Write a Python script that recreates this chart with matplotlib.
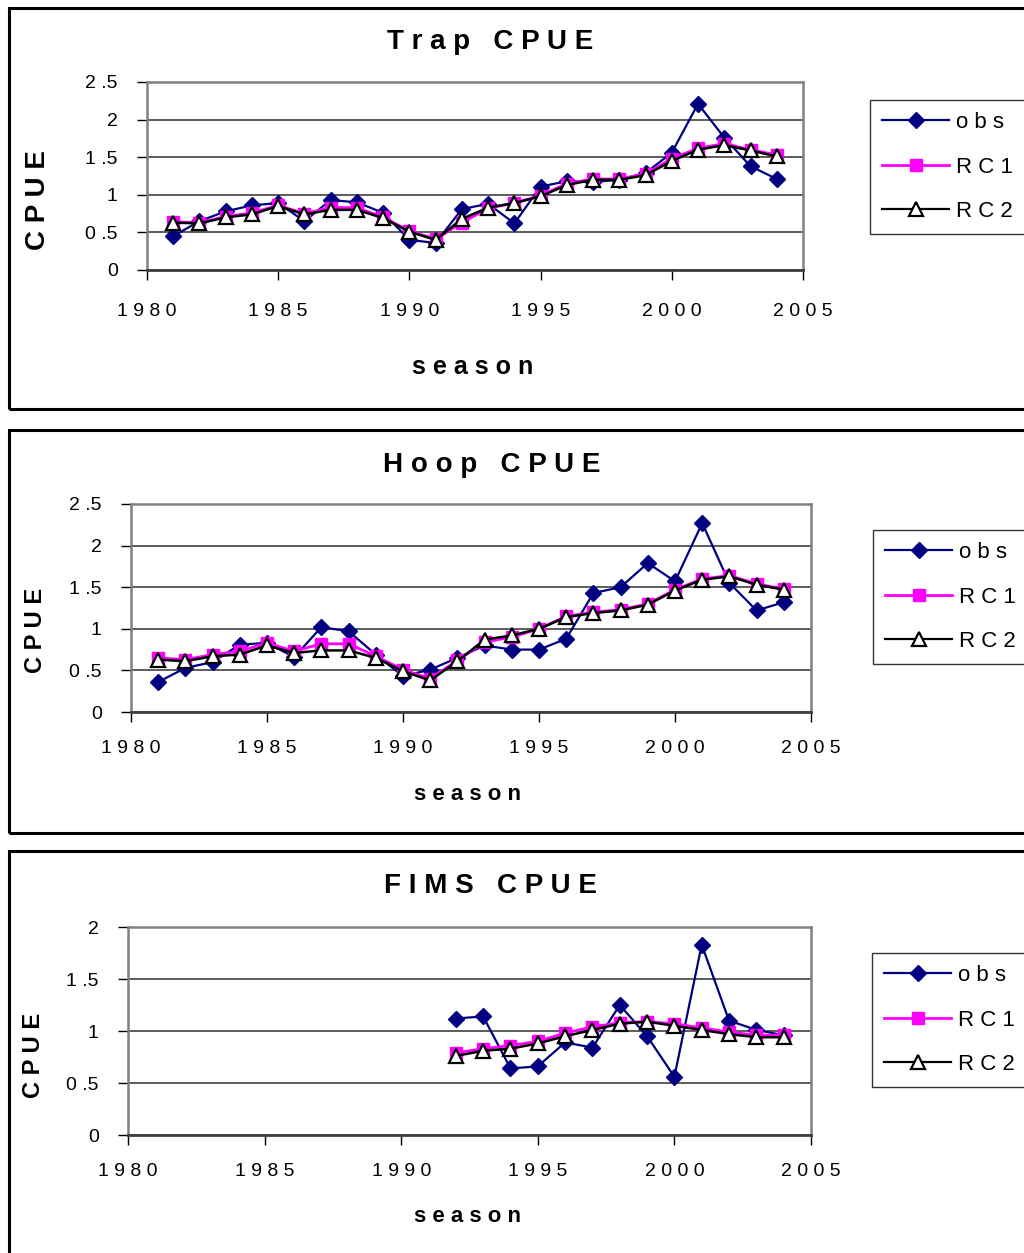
import matplotlib
matplotlib.use("Agg")
import matplotlib.pyplot as plt
from matplotlib.patches import Rectangle
from matplotlib.lines import Line2D

# ---------------- data ----------------
years = list(range(1981, 2005))
trap_obs = [0.45, 0.65, 0.78, 0.86, 0.89, 0.65, 0.93, 0.90, 0.76, 0.40, 0.36, 0.81,
            0.88, 0.62, 1.11, 1.18, 1.17, 1.20, 1.29, 1.56, 2.21, 1.76, 1.38, 1.21]
trap_rc1 = [0.64, 0.63, 0.71, 0.76, 0.86, 0.75, 0.83, 0.83, 0.70, 0.52, 0.41, 0.63,
            0.82, 0.89, 0.99, 1.15, 1.21, 1.21, 1.28, 1.48, 1.62, 1.68, 1.60, 1.53]
trap_rc2 = [0.63, 0.62, 0.70, 0.74, 0.85, 0.74, 0.80, 0.80, 0.69, 0.51, 0.40, 0.68,
            0.83, 0.89, 0.98, 1.13, 1.20, 1.20, 1.26, 1.45, 1.60, 1.66, 1.59, 1.51]

hoop_obs = [0.36, 0.53, 0.60, 0.81, 0.83, 0.66, 1.02, 0.97, 0.69, 0.43, 0.51, 0.65,
            0.80, 0.75, 0.75, 0.88, 1.43, 1.50, 1.79, 1.57, 2.27, 1.55, 1.22, 1.32]
hoop_rc1 = [0.65, 0.63, 0.69, 0.73, 0.83, 0.73, 0.82, 0.82, 0.67, 0.51, 0.40, 0.62,
            0.84, 0.90, 1.00, 1.15, 1.20, 1.23, 1.30, 1.47, 1.60, 1.64, 1.54, 1.48]
hoop_rc2 = [0.63, 0.61, 0.67, 0.69, 0.80, 0.71, 0.74, 0.74, 0.65, 0.49, 0.38, 0.61,
            0.87, 0.92, 1.00, 1.14, 1.19, 1.22, 1.29, 1.46, 1.59, 1.63, 1.53, 1.47]

fims_years = list(range(1992, 2005))
fims_obs = [1.12, 1.14, 0.64, 0.66, 0.89, 0.84, 1.25, 0.95, 0.56, 1.83, 1.10, 1.01, 0.96]
fims_rc1 = [0.79, 0.83, 0.86, 0.90, 0.98, 1.04, 1.08, 1.09, 1.07, 1.03, 0.99, 0.96, 0.96]
fims_rc2 = [0.76, 0.81, 0.83, 0.88, 0.95, 1.01, 1.07, 1.09, 1.05, 1.01, 0.97, 0.94, 0.94]

titles = ["T r a p   C P U E", "H o o p   C P U E", "F I M S   C P U E"]
series_labels = ["o b s", "R C 1", "R C 2"]
xticks = [1980, 1985, 1990, 1995, 2000, 2005]
xtick_labels = ["1 9 8 0", "1 9 8 5", "1 9 9 0", "1 9 9 5", "2 0 0 0", "2 0 0 5"]
yticks_a = [0, 0.5, 1, 1.5, 2, 2.5]
ytick_labels_a = ["0", "0 .5", "1", "1 .5", "2", "2 .5"]
yticks_b = [0, 0.5, 1, 1.5, 2]
ytick_labels_b = ["0", "0 .5", "1", "1 .5", "2"]

FONT = ["Liberation Sans Narrow", "Liberation Sans", "DejaVu Sans"]
plt.rcParams["font.family"] = FONT

W, H = 1024, 1253
fig = plt.figure(figsize=(W / 100, H / 100), dpi=100)


def frac_rect(l, t, r, b):
    return [l / W, 1 - b / H, (r - l) / W, (b - t) / H]


def fx(x):
    return x / W


def fy(y):
    return 1 - y / H


panels = [
    dict(box=(9, 8, 1040, 409), ax=(147, 82, 803, 270), title_y=42, title_x=490,
         ylab=(38, 200), ylab_size=20, xlab=(473, 367), xlab_size=18, xpad=17,
         leg=(870, 100, 1022, 236),
         x=years, obs=trap_obs, rc1=trap_rc1, rc2=trap_rc2,
         yt=yticks_a, ytl=ytick_labels_a, ymax=2.5),
    dict(box=(9, 430, 1040, 833), ax=(131, 504, 811, 712), title_y=465, title_x=492,
         ylab=(35, 630), ylab_size=17, xlab=(467, 795), xlab_size=16, xpad=13,
         leg=(873, 530, 1022, 665),
         x=years, obs=hoop_obs, rc1=hoop_rc1, rc2=hoop_rc2,
         yt=yticks_a, ytl=ytick_labels_a, ymax=2.5),
    dict(box=(9, 851, 1040, 1270), ax=(128, 927, 811, 1135), title_y=886, title_x=490,
         ylab=(33, 1055), ylab_size=17, xlab=(467, 1217), xlab_size=16, xpad=13,
         leg=(872, 953, 1022, 1090),
         x=fims_years, obs=fims_obs, rc1=fims_rc1, rc2=fims_rc2,
         yt=yticks_b, ytl=ytick_labels_b, ymax=2.0),
]

for i, p in enumerate(panels):
    l, t, r, b = p["box"]
    fig.patches.append(Rectangle((fx(l), fy(b)), (r - l) / W, (b - t) / H,
                                 transform=fig.transFigure, fill=False,
                                 edgecolor="black", linewidth=2.2, zorder=0))
    ax = fig.add_axes(frac_rect(*p["ax"]))
    ax.set_xlim(1980, 2005)
    ax.set_ylim(0, p["ymax"])
    ax.set_xticks(xticks)
    ax.set_xticklabels(xtick_labels, fontsize=14)
    ax.set_yticks(p["yt"])
    ax.set_yticklabels(p["ytl"], fontsize=14)
    ax.tick_params(axis="x", length=7, width=1, pad=p["xpad"], colors="black")
    ax.tick_params(axis="y", length=7, width=1, pad=14, colors="black")
    ax.yaxis.grid(True, color="#303030", linewidth=1.1)
    ax.set_axisbelow(True)
    for s in ["top", "right", "left"]:
        ax.spines[s].set_color("#808080")
        ax.spines[s].set_linewidth(1.8)
    ax.spines["bottom"].set_color("#404040")
    ax.spines["bottom"].set_linewidth(2)

    ax.plot(p["x"], p["obs"], color="#000080", linewidth=1.6, marker="D",
            markersize=8.5, markerfacecolor="#000080", markeredgecolor="#000080", zorder=3)
    ax.plot(p["x"], p["rc1"], color="#FF00FF", linewidth=2.0, marker="s",
            markersize=9, markerfacecolor="#FF00FF", markeredgecolor="#FF00FF", zorder=4)
    ax.plot(p["x"], p["rc2"], color="black", linewidth=1.8, marker="^",
            markersize=10, markerfacecolor="white", markeredgecolor="black",
            markeredgewidth=1.6, zorder=5)

    fig.text(fx(p["title_x"]), fy(p["title_y"]), titles[i],
             ha="center", va="center", fontsize=20, fontweight="bold")
    fig.text(fx(p["ylab"][0]), fy(p["ylab"][1]), "C P U E", rotation=90,
             ha="center", va="center", fontsize=p["ylab_size"], fontweight="bold")
    fig.text(fx(p["xlab"][0]), fy(p["xlab"][1]), "s e a s o n",
             ha="center", va="center", fontsize=p["xlab_size"], fontweight="bold")

    handles = [
        Line2D([], [], color="#000080", linewidth=1.6, marker="D", markersize=8.5,
               markerfacecolor="#000080", markeredgecolor="#000080"),
        Line2D([], [], color="#FF00FF", linewidth=2.0, marker="s", markersize=9,
               markerfacecolor="#FF00FF", markeredgecolor="#FF00FF"),
        Line2D([], [], color="black", linewidth=1.6, marker="^", markersize=10,
               markerfacecolor="white", markeredgecolor="black", markeredgewidth=1.6),
    ]
    ll, lt, lr, lb = p["leg"]
    leg = fig.legend(handles, series_labels, loc="upper left",
                     bbox_to_anchor=(fx(ll), fy(lt)), bbox_transform=fig.transFigure,
                     frameon=True, fancybox=False, shadow=False, fontsize=16,
                     handlelength=3.0, handletextpad=0.3, labelspacing=1.05,
                     borderpad=0.55, borderaxespad=0)
    leg.get_frame().set_edgecolor("black")
    leg.get_frame().set_linewidth(1.0)

fig.savefig("out.png", dpi=100)
